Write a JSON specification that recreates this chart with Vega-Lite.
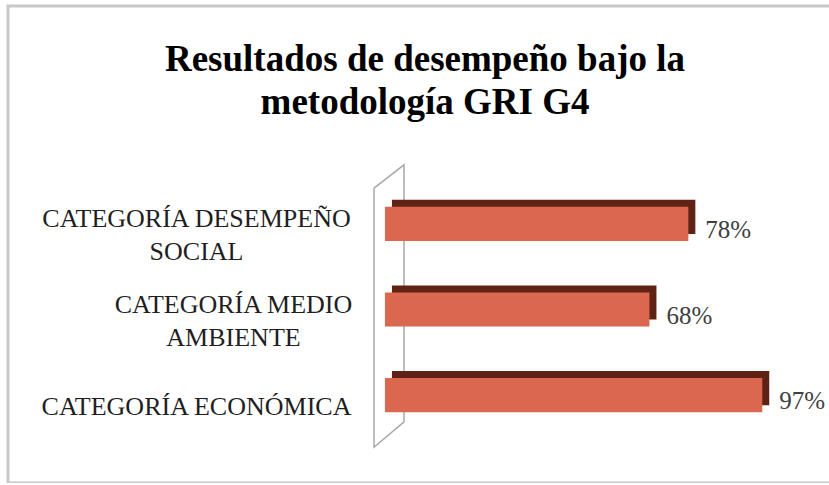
{
  "$schema": "https://vega.github.io/schema/vega-lite/v6.json",
  "autosize": "none",
  "width": 834,
  "height": 477,
  "padding": {"left": 8, "top": 6, "right": 0, "bottom": 0},
  "background": "#ffffff",
  "config": {"view": {"stroke": "#c8c8c8", "strokeWidth": 3}},
  "title": {
    "text": ["Resultados de desempeño bajo la", "metodología GRI G4"],
    "font": "Liberation Serif",
    "fontSize": 37,
    "fontWeight": "bold",
    "color": "#000000",
    "lineHeight": 43,
    "anchor": "middle",
    "frame": "group",
    "offset": -116
  },
  "datasets": {
    "barras": [
      {"categoria": "CATEGORÍA DESEMPEÑO SOCIAL", "valor": 0.78},
      {"categoria": "CATEGORÍA MEDIO AMBIENTE", "valor": 0.68},
      {"categoria": "CATEGORÍA ECONÓMICA", "valor": 0.97}
    ],
    "pared": [
      {"wx": -0.028, "wy": 61.8, "i": 1},
      {"wx": 0.049, "wy": 66.7, "i": 2},
      {"wx": 0.049, "wy": 12.8, "i": 3},
      {"wx": -0.028, "wy": 7.5, "i": 4},
      {"wx": -0.028, "wy": 61.8, "i": 5}
    ]
  },
  "layer": [
    {
      "data": {"name": "pared"},
      "mark": {"type": "line", "stroke": "#a8a8a8", "strokeWidth": 1.5},
      "encoding": {
        "x": {"field": "wx", "type": "quantitative", "scale": {"domain": [-0.969, 1.175], "nice": false, "zero": false}, "axis": null},
        "y": {"field": "wy", "type": "quantitative", "scale": {"domain": [0, 100], "nice": false}, "axis": null},
        "order": {"field": "i", "type": "quantitative"}
      }
    },
    {
      "data": {"name": "barras"},
      "encoding": {
        "y": {
          "field": "categoria",
          "type": "nominal",
          "sort": null,
          "scale": {"range": [158, 449], "paddingInner": 0.6, "paddingOuter": 0.5},
          "axis": {
            "title": null,
            "domain": false,
            "ticks": false,
            "tickSize": 0,
            "grid": false,
            "offset": -188,
            "labelPadding": {"expr": "datum.value == 'CATEGORÍA MEDIO AMBIENTE' ? -37 : 0"},
            "labelOffset": {"expr": "datum.value == 'CATEGORÍA ECONÓMICA' ? 12 : -5"},
            "labelAlign": "center",
            "labelBaseline": "middle",
            "labelFont": "Liberation Serif",
            "labelFontSize": 26,
            "labelColor": "#1f1f1f",
            "labelLineHeight": 33,
            "labelLimit": 500,
            "labelExpr": "datum.value == 'CATEGORÍA DESEMPEÑO SOCIAL' ? ['CATEGORÍA DESEMPEÑO', 'SOCIAL'] : datum.value == 'CATEGORÍA MEDIO AMBIENTE' ? ['CATEGORÍA MEDIO', 'AMBIENTE'] : datum.value"
          }
        },
        "x": {"field": "valor", "type": "quantitative", "scale": {"domain": [-0.969, 1.175], "nice": false, "zero": false}, "axis": null}
      },
      "layer": [
        {"mark": {"type": "bar", "color": "#5e2315", "xOffset": 7, "yOffset": -7}},
        {"mark": {"type": "bar", "color": "#da674e"}},
        {
          "mark": {"type": "text", "align": "left", "baseline": "middle", "dx": 17, "dy": 6, "font": "Liberation Serif", "fontSize": 25, "color": "#404040"},
          "encoding": {"text": {"field": "valor", "type": "quantitative", "format": ".0%"}}
        }
      ]
    }
  ],
  "resolve": {"scale": {"y": "independent"}, "axis": {"y": "independent"}}
}
